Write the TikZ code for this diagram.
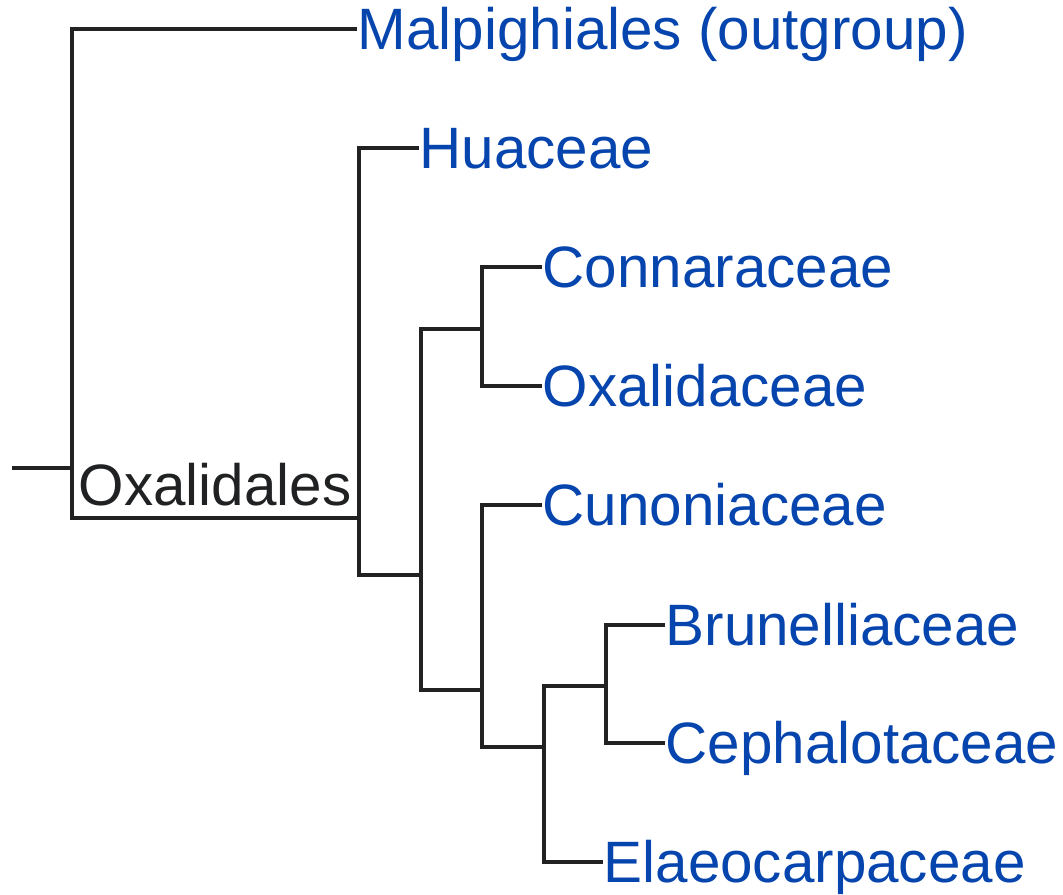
\documentclass[tikz,border=0pt]{standalone}
\usepackage{fontspec}
\setmainfont{Liberation Sans}
\definecolor{linkblue}{RGB}{6,69,173}
\definecolor{edgegray}{RGB}{34,34,34}
\definecolor{labelgray}{RGB}{32,33,34}

\begin{document}
\begin{tikzpicture}[x=0.01cm,y=-0.01cm]
  \tikzstyle{taxon}=[anchor=west,inner xsep=0pt,inner ysep=0pt,text height=11.9pt,text depth=0pt,font=\fontsize{16.6pt}{20pt}\selectfont,text=linkblue]
  \tikzstyle{branch}=[line width=0.04cm,draw=edgegray]
  \useasboundingbox (0,0) rectangle (1063,895);
  % clade junctions
  \coordinate (stem) at (12,468);
  \coordinate (root) at (72,468);
  \coordinate (oxal) at (359,518);
  \coordinate (core) at (421,575);
  \coordinate (conox) at (482,329);
  \coordinate (cuno) at (482,690);
  \coordinate (elaeo) at (544,747);
  \coordinate (bruce) at (606,686);
  % taxa
  \node[taxon] (malp) at (357,29) {Malpighiales (outgroup)};
  \node[taxon] (huac) at (419,148) {Huaceae};
  \node[taxon] (conn) at (542,267) {Connaraceae};
  \node[taxon] (oxad) at (542,386) {Oxalidaceae};
  \node[taxon] (cunc) at (542,505) {Cunoniaceae};
  \node[taxon] (brun) at (665,625) {Brunelliaceae};
  \node[taxon] (ceph) at (665,743) {Cephalotaceae};
  \node[taxon] (elac) at (603,862) {Elaeocarpaceae};
  \node[anchor=base,inner sep=0pt,font=\fontsize{16.6pt}{20pt}\selectfont,text=labelgray] (oxlab) at (215,506) {Oxalidales};
  % tree
  \draw[branch] (stem) -- (root);
  \draw[branch] (root) |- (malp.west);
  \draw[branch] (root) |- (oxal);
  \draw[branch] (oxal) |- (huac.west);
  \draw[branch] (oxal) |- (core);
  \draw[branch] (core) |- (conox);
  \draw[branch] (core) |- (cuno);
  \draw[branch] (conox) |- (conn.west);
  \draw[branch] (conox) |- (oxad.west);
  \draw[branch] (cuno) |- (cunc.west);
  \draw[branch] (cuno) |- (elaeo);
  \draw[branch] (elaeo) |- (bruce);
  \draw[branch] (elaeo) |- (elac.west);
  \draw[branch] (bruce) |- (brun.west);
  \draw[branch] (bruce) |- (ceph.west);
\end{tikzpicture}
\end{document}
